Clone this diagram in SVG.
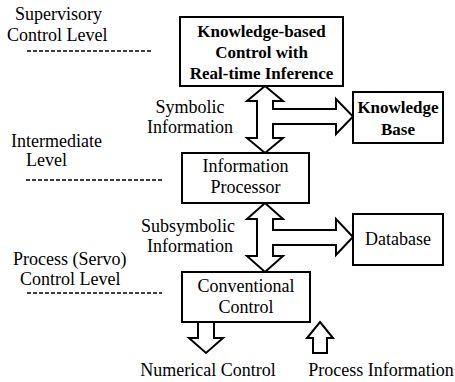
<svg xmlns="http://www.w3.org/2000/svg" width="455" height="382" viewBox="0 0 455 382" font-family="'Liberation Serif', 'DejaVu Serif', serif">
<style>
text{font-family:'Liberation Serif','Times New Roman','DejaVu Serif',serif;font-size:18px;fill:#000}
.b{font-weight:bold;font-size:17px}
.m{text-anchor:middle}
.box{fill:#fff;stroke:#000;stroke-width:2}
.arr{fill:#fff;stroke:#000;stroke-width:2;stroke-linejoin:miter}
.dash{stroke:#000;stroke-width:1.5;stroke-dasharray:4 2;fill:none}
</style>
<rect width="455" height="382" fill="#fff"/>
<g id="levels">
<text x="15" y="20">Supervisory</text>
<text x="7" y="41">Control Level</text>
<line class="dash" x1="27" y1="51" x2="153" y2="51"/>
<text x="11" y="147">Intermediate</text>
<text x="26" y="166">Level</text>
<line class="dash" x1="26" y1="180" x2="163" y2="180"/>
<text x="13" y="265">Process (Servo)</text>
<text x="20" y="285">Control Level</text>
<line class="dash" x1="27" y1="293" x2="162" y2="293"/>
</g>
<g id="connectors">
<path class="arr" d="M265,86 L283,101 L273,101 L273,109 L336,109 L336,99 L353,116.5 L336,134 L336,124 L273,124 L273,138 L283,138 L265,153 L247,138 L257,138 L257,101 L247,101 Z"/>
<path class="arr" d="M265,203 L283,219 L273,219 L273,230 L336,230 L336,219 L353,237 L336,255 L336,245 L273,245 L273,256 L283,256 L265,272 L247,256 L257,256 L257,219 L247,219 Z"/>
<path class="arr" d="M198,322 L198,338 L189,338 L206,353 L223,338 L214,338 L214,322"/>
<path class="arr" d="M320,322 L333,338 L327,338 L327,353 L313,353 L313,338 L307,338 Z"/>
<text class="m" x="190" y="113">Symbolic</text>
<text class="m" x="190" y="133">Information</text>
<text class="m" x="188" y="232">Subsymbolic</text>
<text class="m" x="190" y="252">Information</text>
<text class="m" x="208" y="376">Numerical Control</text>
<text class="m" x="381" y="376">Process Information</text>
</g>
<g id="kbc">
<rect class="box" x="180" y="17" width="163" height="69" stroke-width="2.5"/>
<text class="m b" x="261.5" y="37">Knowledge-based</text>
<text class="m b" x="261.5" y="58">Control with</text>
<text class="m b" x="261.5" y="79">Real-time Inference</text>
</g>
<g id="kb">
<rect class="box" x="353" y="92" width="90" height="51"/>
<text class="m b" x="398" y="113">Knowledge</text>
<text class="m b" x="398" y="135">Base</text>
</g>
<g id="ip">
<rect class="box" x="182" y="153" width="127" height="50"/>
<text class="m" x="245.5" y="172">Information</text>
<text class="m" x="245.5" y="193">Processor</text>
</g>
<g id="db">
<rect class="box" x="353" y="214" width="90" height="51"/>
<text class="m" x="398" y="245">Database</text>
</g>
<g id="cc">
<rect class="box" x="182" y="272" width="128" height="50"/>
<text class="m" x="246" y="292">Conventional</text>
<text class="m" x="246" y="313">Control</text>
</g>
</svg>
